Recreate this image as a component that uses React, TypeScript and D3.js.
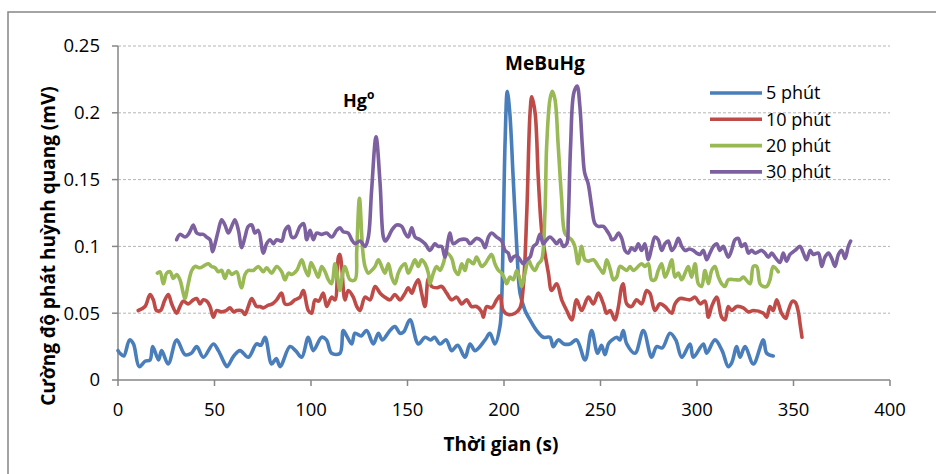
import React from 'react';
import * as d3 from 'd3';

const width = 936;
const height = 474;
const margin = { top: 46, right: 46, bottom: 94, left: 118 };

const xTicks = [0, 50, 100, 150, 200, 250, 300, 350, 400];
const yTicks = [0, 0.05, 0.1, 0.15, 0.2, 0.25];
const seriesNames = ['5 phút', '10 phút', '20 phút', '30 phút'];
const seriesColors = ['#4a7ebb', '#be4b48', '#98b954', '#7d60a0'];

// [time (s), signal (mV)]
const min5: [number, number][] = [
  [0,0.022],[1,0.020],[3,0.018],[6,0.030],[8,0.027],[11,0.010],[14,0.014],[16.6,0.015],[18,0.025],[21,0.015],
  [22.6,0.022],[26,0.012],[30.4,0.030],[34.7,0.019],[38,0.020],[40.8,0.025],[44.2,0.017],[49.4,0.027],[52,0.022],
  [55.4,0.012],[56.5,0.010],[60,0.018],[63.2,0.022],[67.5,0.017],[71.8,0.027],[74,0.026],[76.2,0.032],[79.6,0.012],
  [82,0.016],[84,0.010],[89.1,0.025],[92,0.022],[95.2,0.017],[98.6,0.032],[101.2,0.022],[105.5,0.032],[108,0.030],
  [110.7,0.020],[115,0.020],[116.7,0.037],[118.5,0.033],[121.1,0.027],[122.8,0.035],[126,0.033],[128.8,0.037],
  [132.3,0.027],[134.9,0.035],[137,0.030],[140.9,0.037],[143.5,0.040],[146.1,0.035],[148,0.036],[151.3,0.045],
  [155.6,0.027],[159.1,0.032],[162,0.030],[164,0.032],[166.8,0.027],[170,0.030],[172.9,0.022],[176,0.026],
  [179.8,0.017],[182.4,0.027],[185,0.022],[190.2,0.030],[192.7,0.035],[195.3,0.027],[197.9,0.040],[198.8,0.060],
  [199.6,0.110],[200.6,0.180],[201.7,0.216],[203,0.200],[204.8,0.150],[206.6,0.100],[208.3,0.065],[210.9,0.052],
  [213.5,0.045],[216.9,0.037],[220.4,0.032],[223.8,0.032],[225.5,0.025],[228.1,0.030],[231,0.027],[234.2,0.027],
  [237.6,0.030],[242,0.015],[245.4,0.037],[248.5,0.020],[250.5,0.026],[252.3,0.019],[254.1,0.027],[256,0.030],
  [258.4,0.032],[260,0.030],[261.8,0.037],[263.6,0.027],[267.9,0.020],[272.2,0.037],[276.5,0.017],[279.1,0.025],
  [282,0.024],[286,0.035],[289,0.030],[292.1,0.017],[296.4,0.027],[298.1,0.017],[303.3,0.027],[305,0.020],
  [309.3,0.030],[313,0.022],[316.2,0.010],[318,0.013],[320.6,0.025],[322.3,0.017],[324.9,0.025],[329.2,0.012],
  [334.4,0.030],[336.1,0.020],[339.5,0.018],
];

const min10: [number, number][] = [
  [10.5,0.052],[14,0.055],[16.6,0.064],[18.3,0.060],[20,0.052],[22,0.052],[24.3,0.060],[26.1,0.064],[27.8,0.057],
  [30.4,0.050],[32.1,0.055],[33.8,0.059],[36.4,0.057],[39,0.060],[40.8,0.061],[42.5,0.057],[44.2,0.060],[46,0.059],
  [47.7,0.055],[49.4,0.047],[51.1,0.052],[53.7,0.051],[56,0.052],[58,0.054],[60,0.051],[61.5,0.052],[64,0.052],
  [65.8,0.049],[67.5,0.055],[69.3,0.061],[71.8,0.055],[73.5,0.055],[75.3,0.054],[77.9,0.056],[80,0.057],[82.2,0.060],
  [84.8,0.065],[86.5,0.057],[89.1,0.057],[91.7,0.060],[94.3,0.062],[96,0.067],[98.6,0.052],[100.3,0.050],
  [102.1,0.060],[104,0.059],[106.4,0.065],[108.1,0.055],[110.7,0.062],[112.4,0.060],[114.2,0.092],[115,0.094],
  [115.9,0.085],[117.6,0.060],[119.3,0.067],[121.9,0.062],[123.7,0.055],[125.4,0.052],[128,0.062],[130.6,0.060],
  [133.2,0.070],[135.8,0.065],[138.3,0.062],[140.9,0.060],[143.5,0.064],[146.1,0.060],[148.7,0.065],[150.4,0.069],
  [152.2,0.065],[153.9,0.071],[155.6,0.075],[157.3,0.065],[159.1,0.055],[160.8,0.076],[162.5,0.070],[165.1,0.069],
  [167.7,0.070],[170.3,0.065],[172.9,0.060],[175.5,0.062],[178.1,0.057],[180.6,0.060],[183.2,0.055],[185.8,0.055],
  [188.4,0.051],[189.3,0.047],[191,0.055],[193.6,0.054],[196.2,0.060],[197.9,0.063],[199.6,0.052],[202.2,0.049],
  [205.7,0.050],[208.3,0.054],[210,0.070],[211.8,0.125],[213.5,0.200],[214.4,0.212],[216.1,0.200],[217.8,0.150],
  [219.5,0.112],[221.2,0.095],[223,0.080],[224.7,0.067],[227.3,0.072],[229.9,0.060],[232.5,0.052],[235.1,0.045],
  [237.6,0.060],[240.2,0.052],[243.7,0.062],[246.3,0.057],[248.9,0.065],[251.5,0.057],[253.2,0.050],[255,0.052],
  [257.5,0.045],[259.3,0.055],[261,0.070],[261.8,0.072],[263.6,0.057],[266.1,0.055],[268.7,0.060],[271.3,0.057],
  [273.9,0.067],[275.6,0.065],[278.2,0.052],[280.8,0.057],[283.4,0.055],[286.9,0.050],[288.6,0.057],[291.2,0.061],
  [296.4,0.060],[299,0.062],[301.6,0.057],[304.1,0.059],[305.9,0.047],[307.6,0.055],[310.2,0.062],[312.8,0.047],
  [314.5,0.045],[316.2,0.055],[317.9,0.052],[320.6,0.055],[324,0.054],[326.6,0.051],[329.2,0.052],[334.4,0.050],
  [336.1,0.047],[337.8,0.055],[339.5,0.052],[341.3,0.060],[343.8,0.050],[346,0.046],[347.3,0.052],[349.5,0.059],
  [351,0.058],[352.5,0.051],[353.4,0.042],[354.4,0.032],
];

const min20: [number, number][] = [
  [20.4,0.080],[21.8,0.081],[23.5,0.072],[25.2,0.080],[27,0.081],[28.7,0.076],[30.4,0.079],[32.1,0.075],[33.8,0.065],
  [34.7,0.061],[36.4,0.072],[38.2,0.082],[39.9,0.085],[42.5,0.084],[45.1,0.086],[46.8,0.087],[48.5,0.085],[50.3,0.084],
  [52,0.081],[53.7,0.082],[55.4,0.076],[57.2,0.082],[58.9,0.079],[61.5,0.081],[63.2,0.072],[64.1,0.069],[65.8,0.079],
  [67.5,0.082],[70.1,0.082],[72.7,0.085],[75.3,0.081],[77,0.084],[79.6,0.080],[82.2,0.085],[84.8,0.081],[86.5,0.075],
  [88.3,0.080],[90,0.079],[92.6,0.082],[95.2,0.090],[96.9,0.083],[98.6,0.078],[100,0.088],[102.1,0.082],[103.8,0.077],
  [105.5,0.085],[107.3,0.081],[109,0.075],[110.7,0.072],[112.4,0.087],[113.3,0.082],[115,0.067],[115.9,0.075],
  [117.6,0.085],[120.2,0.075],[122.8,0.075],[123.7,0.097],[125.1,0.136],[126.8,0.097],[128,0.085],[129.7,0.080],
  [131.4,0.082],[133.2,0.085],[134.9,0.090],[136.6,0.085],[138.3,0.080],[140.1,0.087],[141.8,0.077],[143.5,0.072],
  [145.2,0.080],[147,0.085],[148.7,0.087],[150.4,0.080],[152.2,0.085],[153.9,0.090],[155.6,0.085],[157.3,0.090],
  [159.1,0.087],[160.8,0.080],[161.6,0.072],[163.4,0.080],[165.1,0.085],[166.8,0.082],[168.5,0.087],[170.3,0.095],
  [172.9,0.091],[174.6,0.082],[176.3,0.079],[178.1,0.087],[179.8,0.082],[181.5,0.090],[184.1,0.087],[185.8,0.092],
  [188.4,0.085],[190.2,0.087],[191.9,0.091],[193.6,0.094],[195.3,0.087],[197.1,0.082],[198.8,0.080],[200.5,0.075],
  [201.4,0.072],[203.1,0.077],[204.8,0.075],[206.6,0.082],[208.3,0.075],[209.1,0.070],[210.9,0.080],[212.6,0.090],
  [214.3,0.085],[216,0.082],[217.8,0.087],[219.5,0.090],[221.2,0.125],[222.1,0.175],[223.8,0.210],[225,0.216],
  [226.4,0.210],[228.1,0.175],[229.8,0.137],[231.5,0.110],[233.3,0.107],[235,0.105],[236.7,0.100],[238.4,0.087],
  [240.2,0.100],[241.9,0.090],[243.6,0.089],[246.3,0.090],[248.9,0.085],[250.3,0.082],[251.5,0.080],[253.2,0.090],
  [255,0.083],[256.7,0.075],[258.4,0.077],[260.1,0.085],[263.6,0.082],[265.3,0.085],[267,0.082],[271.3,0.087],
  [273,0.085],[274.8,0.087],[276.5,0.075],[278.2,0.075],[279.9,0.082],[281.7,0.087],[283.4,0.077],[285.1,0.082],
  [286.9,0.090],[288.6,0.077],[290.3,0.080],[292.1,0.075],[293.8,0.080],[295.5,0.085],[297.2,0.077],[299,0.087],
  [300.7,0.072],[302.4,0.070],[304.1,0.082],[305.9,0.072],[307.6,0.082],[309.3,0.085],[311.1,0.077],[312.8,0.072],
  [314.5,0.070],[316.2,0.075],[319.7,0.075],[322.3,0.075],[324,0.077],[327.5,0.072],[329.2,0.085],[330.9,0.085],
  [332.7,0.072],[334.4,0.070],[336.1,0.070],[337.8,0.075],[339.5,0.085],[342.1,0.081],
];

const min30: [number, number][] = [
  [30.4,0.105],[32.1,0.109],[34.7,0.107],[36.4,0.109],[38.2,0.114],[39,0.116],[40.8,0.110],[42.5,0.109],[44.2,0.109],
  [45.9,0.107],[47.7,0.105],[49,0.096],[50.3,0.102],[52,0.112],[53.7,0.120],[55.4,0.116],[57.2,0.110],[58.9,0.115],
  [60.6,0.120],[62.4,0.112],[64.1,0.099],[65.8,0.107],[67.5,0.115],[69.3,0.116],[71,0.110],[72.7,0.112],[75.3,0.095],
  [77,0.102],[78.8,0.105],[80.5,0.102],[82.2,0.105],[84.8,0.104],[86.5,0.112],[88.3,0.115],[90,0.107],[91.7,0.107],
  [94.3,0.115],[96.2,0.117],[97.8,0.105],[99.5,0.112],[101.2,0.105],[102.9,0.110],[105.5,0.109],[108.1,0.110],
  [110.7,0.107],[113.3,0.112],[115,0.114],[116.7,0.111],[119.3,0.110],[121.1,0.105],[122.8,0.102],[125.4,0.104],
  [128,0.100],[129.7,0.107],[131.4,0.142],[133.7,0.182],[135.8,0.147],[137.5,0.107],[138.5,0.104],[140.1,0.107],
  [141.8,0.112],[144.4,0.116],[147,0.115],[148.7,0.110],[150.4,0.107],[152.2,0.114],[153.9,0.107],[156.5,0.105],
  [159.1,0.102],[161.6,0.097],[164.2,0.102],[165.9,0.100],[167.7,0.100],[169.4,0.092],[171.1,0.105],[172,0.110],
  [173.7,0.102],[177.2,0.105],[180.6,0.105],[182.4,0.102],[185.8,0.106],[188.4,0.104],[190.2,0.099],[191.9,0.107],
  [193.6,0.110],[196.2,0.107],[198.8,0.104],[200.5,0.097],[202.2,0.095],[203.5,0.089],[204.8,0.092],[206.6,0.093],
  [208.3,0.090],[210,0.087],[211.7,0.090],[213.5,0.092],[215.2,0.100],[216.9,0.102],[218.6,0.109],[220.4,0.102],
  [222.1,0.105],[223.8,0.107],[225.5,0.105],[227.3,0.102],[229,0.105],[230.7,0.100],[232.5,0.102],[233.3,0.120],
  [234.5,0.175],[236.2,0.215],[237.9,0.220],[239.3,0.205],[240.6,0.175],[241.8,0.155],[243.6,0.147],[245.4,0.130],
  [247.1,0.117],[248.8,0.115],[251.5,0.115],[253.2,0.112],[254.9,0.108],[255.8,0.105],[257.5,0.106],[259.3,0.110],
  [261,0.106],[262.7,0.097],[264.4,0.095],[266.1,0.099],[267.9,0.097],[269.6,0.102],[271.3,0.097],[273,0.102],
  [274.8,0.090],[276.5,0.099],[278.2,0.107],[279.9,0.105],[281.7,0.097],[283.4,0.102],[285.1,0.104],[286.9,0.097],
  [288.6,0.100],[290.3,0.106],[292.1,0.100],[293.8,0.097],[296,0.098],[298.1,0.097],[299.8,0.095],[301.6,0.094],
  [303.3,0.097],[305,0.090],[306.7,0.095],[308.5,0.100],[310.2,0.102],[311.9,0.097],[313.6,0.100],[316.2,0.092],
  [317.9,0.097],[319.7,0.105],[321.4,0.106],[323.1,0.100],[324.9,0.102],[326.6,0.095],[328.3,0.097],[330.1,0.095],
  [333.5,0.097],[335.2,0.095],[337,0.092],[338.7,0.095],[340.4,0.092],[343,0.088],[344.7,0.095],[346.4,0.089],
  [348.2,0.094],[350.8,0.097],[353.4,0.100],[355.1,0.095],[356.8,0.090],[358.6,0.097],[360.3,0.094],[362.9,0.095],
  [364.6,0.085],[366.3,0.092],[368.1,0.095],[369.8,0.091],[371.5,0.085],[373.3,0.094],[375,0.097],[376.7,0.091],
  [378.4,0.100],[379.6,0.104],
];

const allSeries = [min5, min10, min20, min30];

const font = '"Open Sans", Lato, sans-serif';
const axisGrey = '#868686';

export default function App() {
  const x = d3.scaleLinear().domain([0, 400]).range([margin.left, width - margin.right]);
  const y = d3.scaleLinear().domain([0, 0.25]).range([height - margin.bottom, margin.top]);

  const line = d3.line<[number, number]>()
    .x(d => x(d[0]))
    .y(d => y(d[1]))
    .curve(d3.curveCatmullRom.alpha(0.5));

  const x0 = x.range()[0];
  const x1 = x.range()[1];
  const yBase = y(0);

  return (
    <div style={{ position: 'absolute', left: 0, top: 0 }}>
      <svg width={width} height={height} style={{ display: 'block', fontFamily: font }}>
        <rect x={0} y={0} width={width} height={height} fill="#fff" />
        <rect x={8} y={12} width={width + 20} height={height + 20} fill="none" stroke={axisGrey} strokeWidth={1.5} />

        {/* gridlines */}
        {yTicks.filter(t => t > 0).map(t => (
          <line key={'g' + t} x1={x0} x2={x1} y1={y(t)} y2={y(t)} stroke="#b5b5b5" strokeWidth={1} strokeDasharray="3,2" />
        ))}

        {/* axes */}
        <line x1={x0} x2={x0} y1={y(0.25)} y2={yBase} stroke={axisGrey} strokeWidth={1.5} />
        <line x1={x0} x2={x1} y1={yBase} y2={yBase} stroke={axisGrey} strokeWidth={1.5} />
        {yTicks.map(t => (
          <g key={'y' + t}>
            <line x1={x0 - 6} x2={x0} y1={y(t)} y2={y(t)} stroke={axisGrey} strokeWidth={1.5} />
            <text x={x0 - 18} y={y(t)} dy="0.35em" textAnchor="end" fontSize={18.5} fill="#000">{t}</text>
          </g>
        ))}
        {xTicks.map(t => (
          <g key={'x' + t}>
            <line x1={x(t)} x2={x(t)} y1={yBase} y2={yBase + 6} stroke={axisGrey} strokeWidth={1.5} />
            <text x={x(t)} y={yBase + 36} textAnchor="middle" fontSize={18.5} fill="#000">{t}</text>
          </g>
        ))}

        {/* series */}
        {allSeries.map((s, i) => (
          <path key={i} d={line(s) || ''} fill="none" stroke={seriesColors[i]} strokeWidth={3.6} strokeLinejoin="round" strokeLinecap="round" />
        ))}

        {/* annotations */}
        <text x={343} y={107} fontSize={18} fontWeight="bold">Hg<tspan dy={-8} fontSize={12}>o</tspan></text>
        <text x={505} y={70} fontSize={19} fontWeight="bold">MeBuHg</text>

        {/* legend */}
        {seriesNames.map((n, i) => (
          <g key={n}>
            <line x1={710} x2={762} y1={93 + i * 26.3} y2={93 + i * 26.3} stroke={seriesColors[i]} strokeWidth={3.6} />
            <text x={766} y={93 + i * 26.3} dy="0.35em" fontSize={18}>{n}</text>
          </g>
        ))}

        {/* axis titles */}
        <text x={501} y={451} textAnchor="middle" fontSize={19} fontWeight="bold">Thời gian (s)</text>
        <text transform="translate(55,246) rotate(-90)" textAnchor="middle" fontSize={19} fontWeight="bold">Cường độ phát huỳnh quang (mV)</text>
      </svg>
    </div>
  );
}
